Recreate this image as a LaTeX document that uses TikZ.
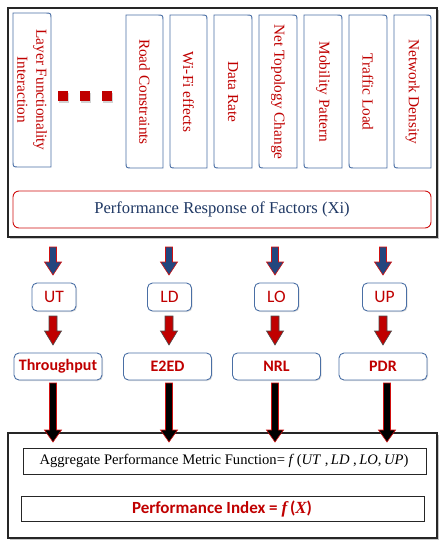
\documentclass[tikz,border=0pt]{standalone}
\usepackage{fontspec}
\setmainfont{Liberation Serif}
\newfontfamily\carl{Carlito}
\usetikzlibrary{shadows}
\definecolor{boxblue}{HTML}{4A6FA5}
\definecolor{txtred}{HTML}{C00000}
\definecolor{navy}{HTML}{1F3864}
\definecolor{arrblue}{HTML}{23467E}
\definecolor{brred}{HTML}{D01010}
\tikzset{
  frame/.style={draw=black!85, line width=1.4pt, fill=white,
     drop shadow={shadow xshift=1.5pt, shadow yshift=-1.5pt, opacity=0.45}},
  factorline/.style={draw=boxblue, line width=0.9pt, fill=white},
  factortext/.style={rotate=-90, text=txtred, font=\fontsize{15.3}{19}\selectfont, align=center, inner sep=0pt},
  sqdot/.style={fill=txtred, draw=none, drop shadow={shadow xshift=1pt, shadow yshift=-1.5pt, opacity=0.35}},
  respbox/.style={draw=brred, line width=0.9pt, rounded corners=6pt, fill=white, minimum width=418pt, minimum height=37pt,
     text=navy, font=\fontsize{16.6}{18}\selectfont},
  smallbox/.style={draw=boxblue, line width=0.9pt, rounded corners=5pt, fill=white, minimum width=44pt, minimum height=28pt,
     text=txtred, font=\carl\fontsize{17.5}{19}\selectfont, drop shadow={shadow xshift=1pt, shadow yshift=-1pt, opacity=0.25}},
  metricbox/.style={draw=boxblue, line width=0.9pt, rounded corners=5pt, fill=white, minimum width=88pt, minimum height=27pt,
     text=txtred, font=\carl\bfseries\fontsize{16}{17}\selectfont, drop shadow={shadow xshift=1pt, shadow yshift=-1pt, opacity=0.25}},
  innerbox/.style={draw=black!85, line width=1pt, fill=white, drop shadow={shadow xshift=1pt, shadow yshift=-1pt, opacity=0.3}},
  bluearrow/.style={fill=arrblue, draw=brred, line width=0.6pt},
  redarrow/.style={fill=txtred, draw=black!70, line width=0.6pt},
  blackarrow/.style={fill=black, draw=brred, line width=0.6pt},
}
% factor box with top-right and bottom-left corners rounded
\newcommand\factorbox[4]{%
  \path[factorline] (#1,#3) -- ({#2-6},#3) .. controls (#2,#3) .. (#2,{#3+6}) -- (#2,#4) -- ({#1+6},#4)
     .. controls (#1,#4) .. (#1,{#4-6}) -- cycle;}
% block arrow: centre x, top y, bottom y, shaft width, head width, head length, style
\newcommand\blockarrow[7]{%
  \path[#7] ({#1-#4/2},#2) -- ({#1+#4/2},#2) -- ({#1+#4/2},{#3-#6}) -- ({#1+#5/2},{#3-#6}) -- (#1,#3)
     -- ({#1-#5/2},{#3-#6}) -- ({#1-#4/2},{#3-#6}) -- cycle;}
\begin{document}
\begin{tikzpicture}[x=1pt,y=-1pt]
\useasboundingbox (0,0) rectangle (448,550);
% top frame
\path[frame] (8,8) rectangle (437,237);
% factor boxes
\factorbox{13}{51}{13}{167}
\node[factortext] (lfi) at (32,90) {Layer Functionality\\Interaction};
\factorbox{126}{163}{15}{168}
\node[factortext] (road) at (144.5,92) {Road Constraints};
\factorbox{170}{207}{15}{168}
\node[factortext] (wifi) at (188.5,92) {Wi-Fi effects};
\factorbox{214}{252}{15}{168}
\node[factortext] (rate) at (233,92) {Data Rate};
\factorbox{259}{297}{15}{168}
\node[factortext] (topo) at (278,92) {Net Topology Change};
\factorbox{304}{342}{15}{168}
\node[factortext] (mob) at (323,92) {Mobility Pattern};
\factorbox{349}{387}{15}{168}
\node[factortext] (traf) at (368,92) {Traffic Load};
\factorbox{394}{431}{15}{168}
\node[factortext] (dens) at (412.5,92) {Network Density};
% dots
\path[sqdot] (58,91) rectangle (68,101);
\path[sqdot] (80,91) rectangle (90,101);
\path[sqdot] (102,91) rectangle (112,101);
% response box
\node[respbox] (resp) at (222,209.5) {Performance Response of Factors (Xi)};
% blue arrows
\blockarrow{53}{247}{275}{7}{17}{13}{bluearrow}
\blockarrow{169}{247}{275}{7}{17}{13}{bluearrow}
\blockarrow{275}{247}{275}{7}{17}{13}{bluearrow}
\blockarrow{383}{247}{275}{7}{17}{13}{bluearrow}
% UT boxes
\node[smallbox] (ut) at (54,297) {UT};
\node[smallbox] (ld) at (169.5,297) {LD};
\node[smallbox] (lo) at (276.5,297) {LO};
\node[smallbox] (up) at (384.5,297) {UP};
% red arrows
\blockarrow{53}{316}{345}{8}{17}{14}{redarrow}
\blockarrow{169}{316}{345}{8}{17}{14}{redarrow}
\blockarrow{275}{316}{345}{8}{17}{14}{redarrow}
\blockarrow{383}{316}{345}{8}{17}{14}{redarrow}
% metric boxes
\node[metricbox] (thr) at (58,366.5) {Throughput};
\node[metricbox] (e2ed) at (167.5,366.5) {E2ED};
\node[metricbox] (nrl) at (276.5,366.5) {NRL};
\node[metricbox] (pdr) at (383,366.5) {PDR};
% bottom frame
\path[frame] (8,433) rectangle (437,538);
% black arrows
\blockarrow{53}{383}{442}{7}{17}{12}{blackarrow}
\blockarrow{169}{383}{442}{7}{17}{12}{blackarrow}
\blockarrow{275}{383}{442}{7}{17}{12}{blackarrow}
\blockarrow{387}{383}{442}{7}{17}{12}{blackarrow}
% inner boxes
\path[innerbox] (23,448) rectangle (426,474);
\node[font=\fontsize{14.6}{16}\selectfont] (agg) at (224,461)
  {Aggregate Performance Metric Function= \textit{f}\,(\textit{UT}\ ,\,\textit{LD}\ ,\,\textit{LO},\,\textit{UP})};
\path[innerbox] (21,496) rectangle (424,521);
\node[text=txtred, font=\carl\bfseries\fontsize{17}{19}\selectfont] (pidx) at (222,508.5)
  {Performance Index = {\rmfamily\bfseries\itshape f}\,({\rmfamily\bfseries\itshape X})};
\end{tikzpicture}
\end{document}
